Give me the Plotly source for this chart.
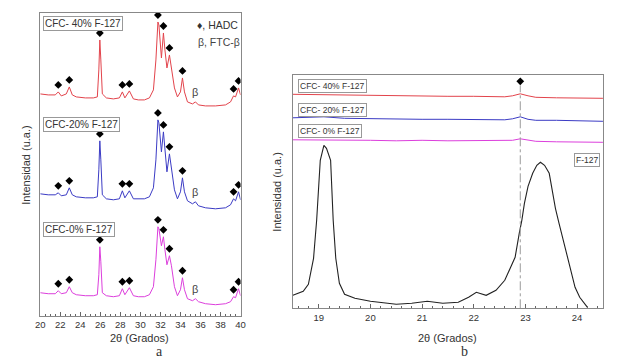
import numpy as np
import plotly.graph_objects as go

# ---------------- Panel a data (XRD, 2theta 20-40) ----------------
two_theta_a = [20.0, 20.8, 21.5, 21.8, 22.1, 22.6, 22.9, 23.2, 23.6, 24.5, 25.3, 25.7,
               25.85, 25.95, 26.05, 26.2, 26.6, 27.3, 27.9, 28.2, 28.45, 28.9, 29.3,
               29.8, 30.4, 30.9, 31.3, 31.55, 31.75, 31.85, 32.1, 32.3, 32.45, 32.65,
               32.9, 33.1, 33.4, 33.7, 34.0, 34.2, 34.4, 34.7, 35.2, 35.5, 35.8, 36.5,
               37.5, 38.5, 39.0, 39.3, 39.5, 39.8, 40.0]
cfc40_a = [22, 21, 21, 24, 20, 22, 29, 21, 19, 18, 18, 19,
           46, 76, 56, 22, 18, 17, 18, 24, 18, 25, 17,
           16, 16, 18, 26, 56, 94, 91, 58, 83, 66, 48,
           61, 46, 28, 19, 24, 38, 24, 14, 12, 14, 11, 10,
           10, 11, 14, 20, 19, 28, 21]
cfc20_a = [22, 21, 21, 23, 20, 21, 28, 21, 19, 18, 18, 19,
           46, 75, 56, 21, 17, 16, 17, 25, 18, 25, 17,
           17, 17, 19, 28, 56, 96, 93, 64, 84, 66, 44,
           62, 48, 26, 17, 24, 38, 24, 15, 12, 14, 10, 8,
           7, 8, 11, 17, 15, 24, 16]
cfc0_a = [23, 22, 22, 25, 22, 23, 29, 23, 21, 20, 20, 21,
          41, 69, 54, 23, 20, 19, 20, 27, 21, 28, 20,
          19, 19, 21, 29, 56, 89, 87, 70, 79, 66, 51,
          60, 50, 29, 20, 26, 38, 26, 17, 15, 17, 14, 12,
          11, 12, 14, 19, 18, 27, 20]
offsets_a = [200, 100, 0]
hadc_peaks_a = [21.8, 22.9, 25.95, 28.2, 28.9, 31.75, 32.3, 32.9, 34.2, 39.3, 39.8]
beta_peak_a = 35.5
labels_a = ["CFC- 40% F-127", "CFC-20% F-127", "CFC-0% F-127"]

# ---------------- Panel b data (2theta 18.5-24.5) ----------------
two_theta_b = [18.5, 19.1, 19.5, 20.0, 20.5, 21.0, 21.5, 22.0, 22.6, 22.75, 22.9,
               23.05, 23.2, 23.6, 24.0, 24.5]
cfc40_b = [14, 13.5, 13.5, 13, 12.5, 12.5, 12, 12, 11.5, 12.5, 14.5, 12.5, 11, 10.5, 10.5, 10]
cfc20_b = [12.5, 13.5, 12, 11.5, 11.5, 11, 11, 10.5, 10.5, 11.5, 13.5, 11, 10, 10, 9.5, 9]
cfc0_b = [12.5, 12.5, 12, 12, 11.5, 12, 11.5, 11.5, 11.5, 12, 13.5, 12, 11, 10.5, 10.5, 10]
offsets_b = [200, 178, 156]
labels_b = ["CFC- 40% F-127", "CFC- 20% F-127", "CFC- 0% F-127"]

two_theta_f127 = [18.5, 18.7, 18.8, 18.9, 18.96, 19.03, 19.1, 19.15, 19.23, 19.28, 19.33,
                  19.4, 19.5, 19.7, 20.0, 20.5, 20.8, 21.1, 21.4, 21.7, 21.9, 22.05,
                  22.24, 22.43, 22.6, 22.8, 22.88, 22.93, 22.98, 23.05, 23.14, 23.22,
                  23.29, 23.37, 23.46, 23.52, 23.58, 23.65, 23.71, 23.86, 23.96, 24.05,
                  24.15, 24.2]
f127 = [13, 17, 24, 50, 88, 148, 163, 160, 148, 88, 50,
        25, 14, 10, 7, 4, 5, 7, 5, 6, 11, 16,
        13, 18, 28, 51, 75, 88, 105, 122, 135, 143,
        146, 143, 135, 117, 100, 85, 72, 41, 21, 11,
        5, 1]
hadc_ref_b = 22.9

colors = ["#e2434b", "#3b3bc4", "#dc3fdc"]
FONT = "Arial, Liberation Sans, sans-serif"

# The page body has an 8 px margin; the figure is sized to fill the rest of the window.
PAGE_MARGIN = 8
FIG_W, FIG_H = 624 - PAGE_MARGIN, 360 - PAGE_MARGIN


def ptx(px):
    return (px - PAGE_MARGIN) / FIG_W


def pty(py):
    return 1 - (py - PAGE_MARGIN) / FIG_H


fig = go.Figure()

# panel a curves
for ys, off, col in zip([cfc40_a, cfc20_a, cfc0_a], offsets_a, colors):
    fig.add_trace(go.Scatter(x=two_theta_a, y=np.array(ys) + off, mode="lines",
                             line=dict(color=col, width=1), xaxis="x", yaxis="y",
                             showlegend=False, hoverinfo="skip"))
    my = np.interp(hadc_peaks_a, two_theta_a, ys) + off + 7
    fig.add_trace(go.Scatter(x=hadc_peaks_a, y=my, mode="markers",
                             marker=dict(symbol="diamond", size=6, color="black"),
                             xaxis="x", yaxis="y", showlegend=False, hoverinfo="skip"))
    fig.add_annotation(x=beta_peak_a, y=float(np.interp(beta_peak_a, two_theta_a, ys)) + off + 10,
                       xref="x", yref="y", text="β", showarrow=False,
                       xanchor="center", yanchor="middle",
                       font=dict(family=FONT, size=11, color="#444"))

# panel b curves
for ys, off, col in zip([cfc40_b, cfc20_b, cfc0_b], offsets_b, colors):
    fig.add_trace(go.Scatter(x=two_theta_b, y=np.array(ys) + off, mode="lines",
                             line=dict(color=col, width=1), xaxis="x2", yaxis="y2",
                             showlegend=False, hoverinfo="skip"))
fig.add_trace(go.Scatter(x=two_theta_f127, y=f127, mode="lines",
                         line=dict(color="#222", width=1.1), xaxis="x2", yaxis="y2",
                         showlegend=False, hoverinfo="skip"))
fig.add_shape(type="line", x0=hadc_ref_b, x1=hadc_ref_b, y0=0, y1=223, xref="x2", yref="y2",
              line=dict(color="#9a9a9a", width=1, dash="dashdot"))
fig.add_trace(go.Scatter(x=[hadc_ref_b], y=[227], mode="markers",
                         marker=dict(symbol="diamond", size=6, color="black"),
                         xaxis="x2", yaxis="y2", showlegend=False, hoverinfo="skip"))

# sample labels panel a
for lab, yy in zip(labels_a, [292, 191, 86]):
    fig.add_annotation(x=20.3, y=yy, xref="x", yref="y", text=lab, showarrow=False,
                       xanchor="left", yanchor="middle",
                       font=dict(family=FONT, size=10, color="#333"),
                       bordercolor="#999", borderwidth=1, borderpad=1, bgcolor="white")


def paper_text(px, py, text, size=11, color="#333", family=FONT, angle=0, xanchor="center"):
    fig.add_annotation(x=ptx(px), y=pty(py), xref="paper", yref="paper", text=text,
                       showarrow=False, xanchor=xanchor, yanchor="middle", textangle=angle,
                       font=dict(family=family, size=size, color=color))


paper_text(193, 25, "♦, HADC", size=10.5, xanchor="left")
paper_text(194, 42, "β, FTC-β", size=10.5, color="#444", xanchor="left")

# sample labels panel b
for lab, yy in zip(labels_b, [222, 198, 177]):
    fig.add_annotation(x=18.6, y=yy, xref="x2", yref="y2", text=lab, showarrow=False,
                       xanchor="left", yanchor="middle",
                       font=dict(family=FONT, size=8.5, color="#333"),
                       bordercolor="#999", borderwidth=1, borderpad=1, bgcolor="white")
fig.add_annotation(x=24.45, y=148, xref="x2", yref="y2", text="F-127", showarrow=False,
                   xanchor="right", yanchor="middle",
                   font=dict(family=FONT, size=8.5, color="#333"),
                   bordercolor="#999", borderwidth=1, borderpad=1, bgcolor="white")

# axis titles and panel letters
paper_text(137, 338, "2θ (Grados)")
paper_text(450, 338, "2θ (Grados)")
paper_text(21, 165, "Intensidad (u.a.)", angle=-90)
paper_text(276, 192, "Intensidad (u.a.)", angle=-90)
paper_text(157, 351, "a", size=14, family="Liberation Serif, serif")
paper_text(467, 351, "b", size=14, family="Liberation Serif, serif")

axis_common = dict(showline=True, mirror=True, linecolor="#888", linewidth=1,
                   showgrid=False, zeroline=False)
fig.update_layout(
    width=FIG_W, height=FIG_H, margin=dict(l=0, r=0, t=0, b=0),
    paper_bgcolor="white", plot_bgcolor="white",
    xaxis=dict(domain=[ptx(35.7), ptx(239.3)], range=[20, 40], anchor="y",
               tickmode="linear", tick0=20, dtick=2, ticks="inside", ticklen=4,
               tickcolor="#666", minor=dict(dtick=0.5, ticks="inside", ticklen=2, tickcolor="#666"),
               tickfont=dict(family=FONT, size=9.5, color="#333"), **axis_common),
    yaxis=dict(domain=[pty(315.7), pty(13)], range=[0, 303], anchor="x",
               showticklabels=False, ticks="", **axis_common),
    xaxis2=dict(domain=[ptx(292.5), ptx(607.7)], range=[18.5, 24.5], anchor="y2",
                tickmode="linear", tick0=19, dtick=1, ticks="inside", ticklen=4,
                tickcolor="#666", minor=dict(dtick=0.2, ticks="inside", ticklen=2, tickcolor="#666"),
                tickfont=dict(family=FONT, size=9.5, color="#333"), **axis_common),
    yaxis2=dict(domain=[pty(308.3), pty(74.7)], range=[0, 233.6], anchor="x2",
                showticklabels=False, ticks="", **axis_common),
)

fig.write_html("out.html")
